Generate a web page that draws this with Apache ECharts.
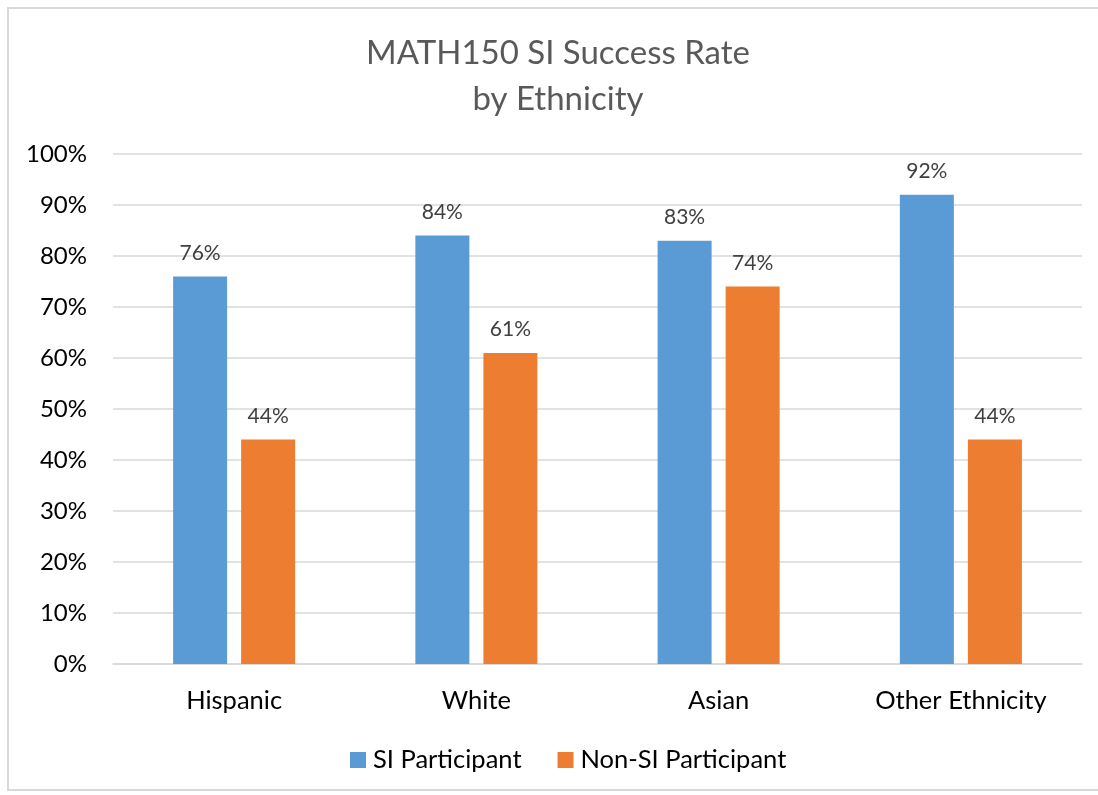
<!DOCTYPE html>
<html><head><meta charset="utf-8">
<script src="https://cdn.jsdelivr.net/npm/echarts@6/dist/echarts.min.js"></script>
<style>
html,body{margin:0;padding:0;background:#fff;}
#frame{position:absolute;left:7px;top:7px;width:1100px;height:784px;border:2px solid #d9d9d9;box-sizing:border-box;}
#c{position:absolute;left:0;top:0;width:1098px;height:795px;}
</style></head>
<body>
<div id="frame"></div>
<div id="c"></div>
<script>
const categories = ['Hispanic', 'White', 'Asian', 'Other Ethnicity'];
const siParticipant = [76, 84, 83, 92];
const nonSiParticipant = [44, 61, 74, 44];
const seriesNames = ['SI Participant', 'Non-SI Participant'];
const titleLines = ['MATH150 SI Success Rate', 'by Ethnicity'];

const FONT = 'Lato';
const chart = echarts.init(document.getElementById('c'));
const labelCfg = {
  show: true, position: 'top', distance: 13,
  formatter: p => p.value + '%',
  color: '#404040', fontSize: 21, fontFamily: FONT
};
chart.setOption({
  animation: false,
  title: {
    text: titleLines.join('\n'), left: 553, textAlign: 'center', top: 25,
    textStyle: { color: '#595959', fontSize: 33, fontWeight: 'normal', fontFamily: FONT, lineHeight: 46 }
  },
  legend: {
    bottom: 17, left: 345, itemWidth: 16, itemHeight: 16, itemGap: 36,
    icon: 'rect',
    textStyle: { color: '#000', fontSize: 25.5, fontFamily: FONT, padding: [0, 0, 0, 2] }
  },
  grid: { left: 113, right: 16, top: 154, bottom: 131, containLabel: false },
  xAxis: {
    type: 'category', data: categories,
    axisLine: { lineStyle: { color: '#d9d9d9', width: 1.5 } },
    axisTick: { show: false },
    axisLabel: { color: '#000', fontSize: 25.5, fontFamily: FONT, margin: 24 }
  },
  yAxis: {
    type: 'value', min: 0, max: 100, interval: 10,
    axisLabel: { formatter: v => v + '%', color: '#000', fontSize: 24, fontFamily: FONT, margin: 26 },
    splitLine: { lineStyle: { color: '#d9d9d9', width: 1.5 } },
    axisLine: { show: false }, axisTick: { show: false }
  },
  series: [
    { name: seriesNames[0], type: 'bar', data: siParticipant, barWidth: 54, barGap: '26%',
      itemStyle: { color: '#5b9bd5' }, label: labelCfg },
    { name: seriesNames[1], type: 'bar', data: nonSiParticipant, barWidth: 54,
      itemStyle: { color: '#ed7d31' }, label: labelCfg }
  ]
});
</script>
</body></html>
